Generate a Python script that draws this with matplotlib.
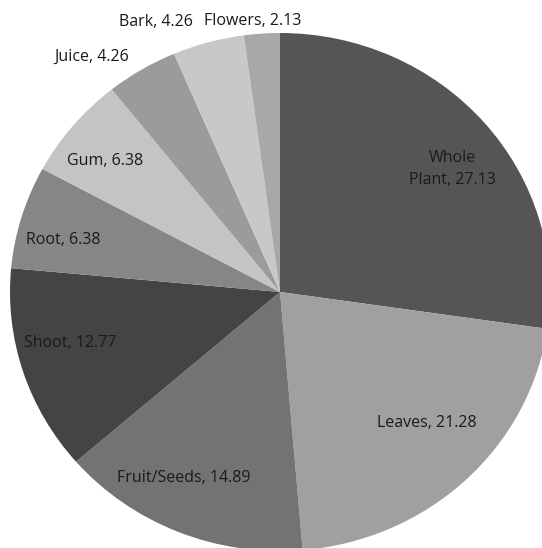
import matplotlib
matplotlib.use("Agg")
import matplotlib.pyplot as plt

categories = ["Whole\nPlant", "Leaves", "Fruit/Seeds", "Shoot", "Root", "Gum", "Juice", "Bark", "Flowers"]
values = [27.13, 21.28, 14.89, 12.77, 6.38, 6.38, 4.26, 4.26, 2.13]
colors = ["#555555", "#a0a0a0", "#737373", "#444444", "#868686", "#c4c4c4", "#9b9b9b", "#c8c8c8", "#a8a8a8"]
# label anchor positions in axes data units (x, y)
label_pos = [(0.64, 0.475), (0.544, -0.506), (-0.356, -0.718), (-0.778, -0.197),
             (-0.804, 0.2), (-0.648, 0.506), (-0.696, 0.907), (-0.459, 1.042), (-0.10, 1.046)]

W, H = 542, 548
fig = plt.figure(figsize=(W / 100, H / 100), dpi=100)
cx, cy, rx, ry = 280, 548 - 292, 270, 259
ax = fig.add_axes([(cx - rx) / W, (cy - ry) / H, 2 * rx / W, 2 * ry / H])
ax.pie(values, colors=colors, startangle=90, counterclock=False,
       wedgeprops=dict(linewidth=0))
ax.set_aspect("auto")
ax.set_xlim(-1, 1)
ax.set_ylim(-1, 1)
ax.axis("off")

for name, v, (x, y) in zip(categories, values, label_pos):
    ax.text(x, y, f"{name}, {v:.2f}", ha="center", va="center", fontsize=11.5,
            family="Open Sans", color="#1a1a1a", linespacing=1.45, clip_on=False)

fig.savefig("out.png", dpi=100)
